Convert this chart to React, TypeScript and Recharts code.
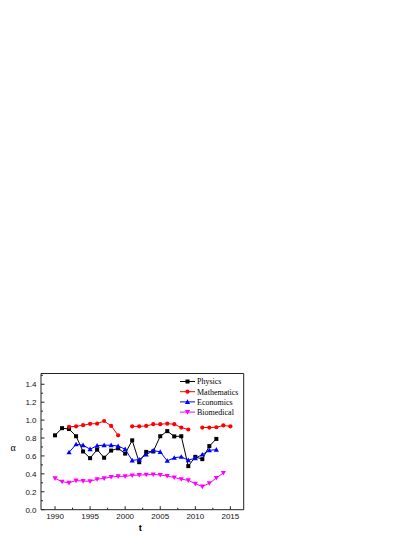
import React from 'react';
import { LineChart, Line, XAxis, YAxis, Legend } from 'recharts';

const years = [1990, 1991, 1992, 1993, 1994, 1995, 1996, 1997, 1998, 1999, 2000, 2001, 2002, 2003, 2004, 2005, 2006, 2007, 2008, 2009, 2010, 2011, 2012, 2013, 2014, 2015];
const physics = [0.83, 0.91, 0.9, 0.82, 0.65, 0.575, 0.67, 0.58, 0.66, 0.685, 0.626, 0.774, 0.53, 0.645, 0.65, 0.82, 0.877, 0.818, 0.82, 0.486, 0.59, 0.564, 0.71, 0.79, null, null];
const mathematics = [null, null, 0.925, 0.93, 0.943, 0.958, 0.96, 0.99, 0.935, 0.83, null, 0.93, 0.93, 0.935, 0.954, 0.954, 0.96, 0.954, 0.917, 0.895, null, 0.917, 0.917, 0.92, 0.94, 0.93];
const economics = [null, null, 0.64, 0.73, 0.72, 0.675, 0.715, 0.72, 0.72, 0.71, 0.675, 0.55, 0.56, 0.615, 0.66, 0.645, 0.545, 0.58, 0.59, 0.553, 0.575, 0.615, 0.663, 0.67, null, null];
const biomedical = [0.35, 0.313, 0.3, 0.325, 0.32, 0.317, 0.34, 0.35, 0.365, 0.372, 0.372, 0.383, 0.387, 0.39, 0.394, 0.387, 0.376, 0.36, 0.34, 0.328, 0.29, 0.258, 0.295, 0.354, 0.41, null];

const seriesNames = ['Physics', 'Mathematics', 'Economics', 'Biomedical'];
const seriesKeys = ['physics', 'mathematics', 'economics', 'biomedical'];
const seriesColors = ['#000000', '#ff0000', '#0000ff', '#ff00ff'];
const seriesShapes = ['square', 'circle', 'triangle', 'triangleDown'];

const xTicks = [1990, 1992.5, 1995, 1997.5, 2000, 2002.5, 2005, 2007.5, 2010, 2012.5, 2015];
const yTicks = [0, 0.1, 0.2, 0.3, 0.4, 0.5, 0.6, 0.7, 0.8, 0.9, 1.0, 1.1, 1.2, 1.3, 1.4, 1.5];
const xDomain = [1988, 2016.9];
const yDomain = [0, 1.52];

const data = years.map((t, i) => ({
  t,
  physics: physics[i],
  mathematics: mathematics[i],
  economics: economics[i],
  biomedical: biomedical[i],
}));

const AXIS = '#222';
const SANS = '"Liberation Sans", Arial, sans-serif';
const SERIF = '"Liberation Serif", "Times New Roman", serif';

function Marker({ shape, cx, cy, color }: { shape: string; cx: number; cy: number; color: string }) {
  if (shape === 'square') {
    return <rect x={cx - 2} y={cy - 2} width={4} height={4} fill={color} />;
  }
  if (shape === 'circle') {
    return <circle cx={cx} cy={cy} r={2.1} fill={color} />;
  }
  if (shape === 'triangle') {
    return <polygon points={`${cx},${cy - 2.6} ${cx - 2.6},${cy + 2} ${cx + 2.6},${cy + 2}`} fill={color} />;
  }
  return <polygon points={`${cx},${cy + 2.6} ${cx - 2.6},${cy - 2} ${cx + 2.6},${cy - 2}`} fill={color} />;
}

const makeDot = (shape: string, color: string) => (props: any) => {
  const { cx, cy, index } = props;
  if (cx == null || cy == null || props.value == null || Number.isNaN(cy)) return <g key={`e${index}`} />;
  return (
    <g key={`d${index}`}>
      <Marker shape={shape} cx={cx} cy={cy} color={color} />
    </g>
  );
};

const XTick = (props: any) => {
  const { x, y, payload } = props;
  const v = payload.value;
  const major = Math.abs(v % 5) < 1e-6;
  return (
    <g>
      <line x1={x} x2={x} y1={y} y2={y - (major ? 3.5 : 2)} stroke={AXIS} strokeWidth={1} />
      {major && (
        <text x={x} y={y + 9.5} textAnchor="middle" fontSize={8} fontFamily={SANS} fill="#111">
          {v}
        </text>
      )}
    </g>
  );
};

const YTick = (props: any) => {
  const { x, y, payload } = props;
  const v = payload.value;
  const major = Math.round(v * 10) % 2 === 0;
  return (
    <g>
      <line x1={x} x2={x + (major ? 3.5 : 2)} y1={y} y2={y} stroke={AXIS} strokeWidth={1} />
      {major && v <= 1.4 && (
        <text x={x - 4.5} y={y} dy={2.8} textAnchor="end" fontSize={8} fontFamily={SANS} fill="#111">
          {v.toFixed(1)}
        </text>
      )}
    </g>
  );
};

const LegendBox = () => (
  <svg width={80} height={46} style={{ display: 'block' }}>
    {seriesNames.map((name, i) => {
      const y = 8.5 + i * 10.2;
      return (
        <g key={name}>
          <line x1={2} x2={17} y1={y} y2={y} stroke={seriesColors[i]} strokeWidth={1} />
          <Marker shape={seriesShapes[i]} cx={9.5} cy={y} color={seriesColors[i]} />
          <text x={19} y={y} dy={2.8} fontSize={8} fontFamily={SERIF} fill="#000">
            {name}
          </text>
        </g>
      );
    })}
  </svg>
);

const XLabel = (props: any) => {
  const vb = props.viewBox || {};
  return (
    <text x={vb.x + vb.width / 2 - 2} y={vb.y + 21} textAnchor="middle" fontSize={9.5} fontWeight="bold" fontFamily={SANS} fill="#000">
      t
    </text>
  );
};

const YLabel = (props: any) => {
  const vb = props.viewBox || {};
  return (
    <text x={vb.x + vb.width - 28} y={vb.y + vb.height / 2 + 9} textAnchor="middle" fontSize={10} fontFamily={SERIF} fill="#000">
      α
    </text>
  );
};

export default function App() {
  return (
    <LineChart
      width={399}
      height={528}
      data={data}
      margin={{ top: 364.5, left: 3, right: 162.3, bottom: 6.3 }}
    >
      <XAxis
        dataKey="t"
        type="number"
        domain={xDomain}
        allowDataOverflow
        ticks={xTicks}
        interval={0}
        height={20}
        tickSize={0}
        tickMargin={0}
        tickLine={false}
        tick={<XTick />}
        axisLine={{ stroke: AXIS, strokeWidth: 1 }}
        label={<XLabel />}
      />
      <XAxis
        xAxisId="top"
        orientation="top"
        dataKey="t"
        type="number"
        domain={xDomain}
        allowDataOverflow
        height={1}
        tick={false}
        tickLine={false}
        axisLine={{ stroke: AXIS, strokeWidth: 1 }}
      />
      <YAxis
        type="number"
        domain={yDomain}
        allowDataOverflow
        ticks={yTicks}
        interval={0}
        width={30}
        tickSize={0}
        tickMargin={0}
        tickLine={false}
        tick={<YTick />}
        axisLine={{ stroke: AXIS, strokeWidth: 1 }}
        label={<YLabel />}
      />
      <YAxis
        yAxisId="right"
        orientation="right"
        type="number"
        domain={yDomain}
        allowDataOverflow
        width={1}
        tick={false}
        tickLine={false}
        axisLine={{ stroke: AXIS, strokeWidth: 1 }}
      />
      <Legend
        layout="vertical"
        align="center"
        verticalAlign="middle"
        content={() => <LegendBox />}
        wrapperStyle={{ position: 'absolute', left: 170, top: 365, width: 80, height: 46 }}
      />
      {seriesKeys.map((k, i) => (
        <Line
          key={k}
          dataKey={k}
          name={seriesNames[i]}
          stroke={seriesColors[i]}
          strokeWidth={1}
          dot={makeDot(seriesShapes[i], seriesColors[i])}
          activeDot={false}
          connectNulls={false}
          isAnimationActive={false}
        />
      ))}
    </LineChart>
  );
}
